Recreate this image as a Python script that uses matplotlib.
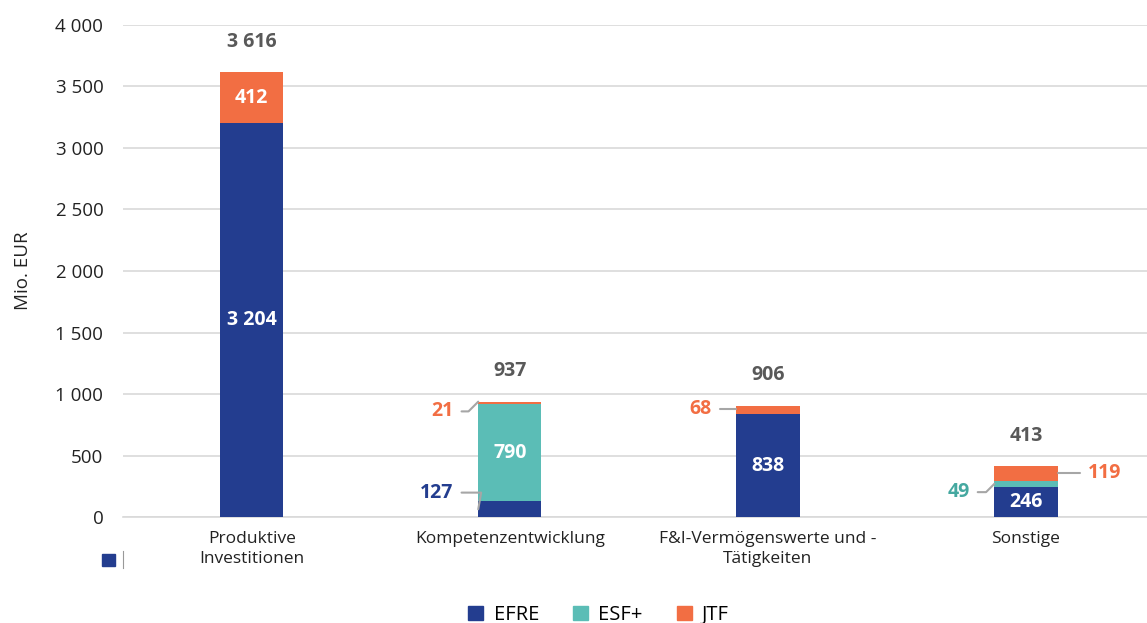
import matplotlib
matplotlib.use("Agg")
import matplotlib.pyplot as plt
import numpy as np
from matplotlib.ticker import FuncFormatter
from matplotlib.patches import Patch

plt.rcParams["font.family"] = ["Open Sans", "DejaVu Sans"]

categories = ["Produktive\nInvestitionen", "Kompetenzentwicklung",
              "F&I-Vermögenswerte und -\nTätigkeiten", "Sonstige"]
efre = [3204, 127, 838, 246]
esf = [0, 790, 0, 49]
jtf = [412, 21, 68, 119]
totals = [3616, 937, 906, 413]

C_EFRE = "#233d8f"
C_ESF = "#5bbdb6"
C_ESF_TXT = "#45a8a0"
C_JTF = "#f26e43"
C_TOT = "#595959"


def fmt(v):
    return "{:,}".format(int(v)).replace(",", " ")


fig = plt.figure(figsize=(11.47, 6.23), dpi=100)
ax = fig.add_axes([0.107, 0.170, 0.900, 0.790])

x = np.arange(len(categories))
w = 0.245
efre = np.array(efre)
esf = np.array(esf)
jtf = np.array(jtf)

ax.bar(x, efre, w, color=C_EFRE, zorder=3)
ax.bar(x, esf, w, bottom=efre, color=C_ESF, zorder=3)
ax.bar(x, jtf, w, bottom=efre + esf, color=C_JTF, zorder=3)

ax.set_xlim(-0.5, 3.5)
ax.set_ylim(0, 4000)
ax.set_yticks(range(0, 4001, 500))
ax.yaxis.set_major_formatter(FuncFormatter(lambda v, p: fmt(v)))
ax.grid(axis="y", color="#d9d9d9", linewidth=1.2, zorder=0)
for s in ["top", "right", "left"]:
    ax.spines[s].set_visible(False)
ax.spines["bottom"].set_color("#d9d9d9")
ax.spines["bottom"].set_linewidth(1.2)
ax.tick_params(axis="y", length=0, labelsize=13.5, colors="#222222", pad=14)
ax.tick_params(axis="x", length=0, labelsize=12.5, colors="#222222", pad=10)
ax.set_xticks(x)
ax.set_xticklabels(categories, linespacing=1.35)
ax.set_ylabel("Mio. EUR", fontsize=13.5, color="#222222")
ax.yaxis.set_label_coords(-0.088, 0.5)

bold = dict(fontsize=14, fontweight="bold")

# totals
for i, t in enumerate(totals):
    ax.annotate(fmt(t), (x[i], t), xytext=(0, 22), textcoords="offset points",
                ha="center", va="center", color=C_TOT, **bold)

# labels inside
ax.text(x[0], efre[0] / 2, fmt(efre[0]), ha="center", va="center", color="white", **bold)
ax.text(x[0], efre[0] + jtf[0] / 2, fmt(jtf[0]), ha="center", va="center", color="white", **bold)
ax.text(x[1], efre[1] + esf[1] / 2, fmt(esf[1]), ha="center", va="center", color="white", **bold)
ax.text(x[2], efre[2] / 2, fmt(efre[2]), ha="center", va="center", color="white", **bold)
ax.text(x[3], efre[3] / 2, fmt(efre[3]), ha="center", va="center", color="white", **bold)


def leader(i, yval, text, color, side, dy, angle):
    edge = x[i] - w / 2 if side == "left" else x[i] + w / 2
    dx = -18 if side == "left" else 22
    ax.annotate(text, (edge, yval), xytext=(dx, dy), textcoords="offset points",
                ha="right" if side == "left" else "left", va="center", color=color,
                arrowprops=dict(arrowstyle="-", color="#a6a6a6", lw=1.5,
                                shrinkA=4, shrinkB=0,
                                connectionstyle="angle,angleA=0,angleB=%d,rad=0" % angle),
                **bold)


leader(1, efre[1] / 2, fmt(efre[1]), C_EFRE, "left", 12, 80)
leader(1, efre[1] + esf[1] + jtf[1], fmt(jtf[1]), C_JTF, "left", -7, 45)
leader(2, efre[2] + jtf[2] / 2 + 10, fmt(jtf[2]), C_JTF, "left", 0, 10)
leader(3, efre[3] + esf[3] / 2, fmt(esf[3]), C_ESF_TXT, "left", -6, 45)
leader(3, efre[3] + esf[3] + jtf[3] / 2, fmt(jtf[3]), C_JTF, "right", 0, 10)

# stray legend artefact bottom-left
fig.patches.append(plt.Rectangle((102 / 1147, 1 - 566 / 623), 13 / 1147, 12 / 623,
                                 transform=fig.transFigure, color=C_EFRE, figure=fig))
fig.lines.append(plt.Line2D([123 / 1147, 123 / 1147], [1 - 568 / 623, 1 - 551 / 623],
                            transform=fig.transFigure, color="#999999", lw=0.8, figure=fig))

handles = [Patch(color=C_EFRE, label="EFRE"), Patch(color=C_ESF, label="ESF+"),
           Patch(color=C_JTF, label="JTF")]
fig.legend(handles=handles, loc="center", bbox_to_anchor=(0.522, 0.013), ncol=3,
           frameon=False, fontsize=14.5, handlelength=0.75, handleheight=0.75,
           columnspacing=1.7, handletextpad=0.5)

fig.savefig("out.png", dpi=100)
